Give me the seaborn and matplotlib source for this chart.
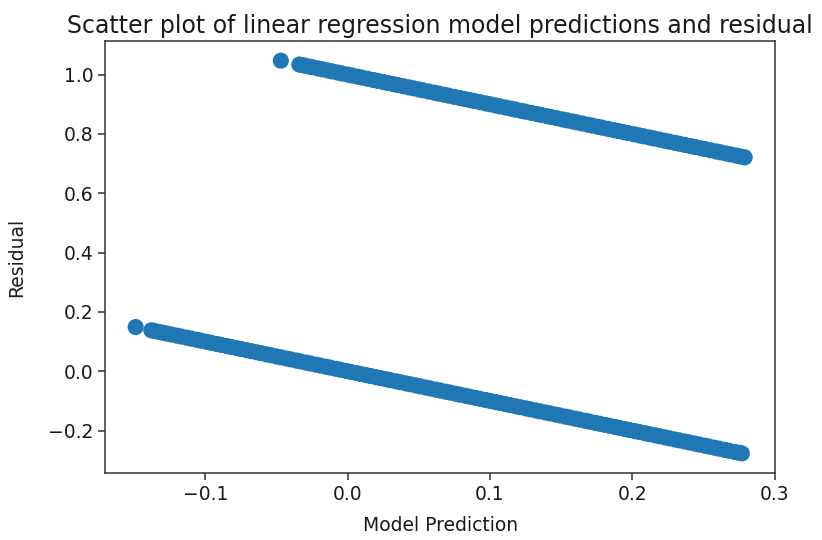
import matplotlib
matplotlib.use("Agg")
import matplotlib.pyplot as plt
import seaborn as sns
import pandas as pd

# Model predictions for observations whose actual label is 1
pred_label_one = [
    -0.047, -0.034, -0.032, -0.030, -0.027, -0.025, -0.021, -0.018, -0.014, -0.011,
    -0.007, -0.004, 0.000, 0.003, 0.007, 0.010, 0.014, 0.018, 0.021, 0.025,
    0.028, 0.032, 0.035, 0.039, 0.043, 0.046, 0.050, 0.053, 0.057, 0.061,
    0.064, 0.068, 0.071, 0.075, 0.079, 0.082, 0.086, 0.089, 0.093, 0.097,
    0.100, 0.104, 0.107, 0.111, 0.115, 0.118, 0.122, 0.125, 0.129, 0.133,
    0.136, 0.140, 0.143, 0.147, 0.151, 0.154, 0.158, 0.161, 0.165, 0.169,
    0.172, 0.176, 0.179, 0.183, 0.187, 0.190, 0.194, 0.197, 0.201, 0.205,
    0.208, 0.212, 0.215, 0.219, 0.223, 0.226, 0.230, 0.233, 0.237, 0.241,
    0.244, 0.248, 0.251, 0.255, 0.259, 0.262, 0.266, 0.269, 0.273, 0.276, 0.279,
]

# Model predictions for observations whose actual label is 0
pred_label_zero = [
    -0.149, -0.138, -0.136, -0.133, -0.130, -0.127, -0.124, -0.120, -0.117, -0.113,
    -0.110, -0.106, -0.103, -0.099, -0.096, -0.092, -0.089, -0.085, -0.082, -0.078,
    -0.075, -0.071, -0.068, -0.064, -0.061, -0.057, -0.054, -0.050, -0.047, -0.043,
    -0.040, -0.036, -0.033, -0.029, -0.026, -0.022, -0.019, -0.015, -0.012, -0.008,
    -0.005, -0.001, 0.002, 0.006, 0.009, 0.013, 0.016, 0.020, 0.023, 0.027,
    0.030, 0.034, 0.037, 0.041, 0.044, 0.048, 0.051, 0.055, 0.058, 0.062,
    0.065, 0.069, 0.072, 0.076, 0.079, 0.083, 0.086, 0.090, 0.093, 0.097,
    0.100, 0.104, 0.107, 0.111, 0.114, 0.118, 0.121, 0.125, 0.128, 0.132,
    0.135, 0.139, 0.142, 0.146, 0.149, 0.153, 0.156, 0.160, 0.163, 0.167,
    0.170, 0.174, 0.177, 0.181, 0.184, 0.188, 0.191, 0.195, 0.198, 0.202,
    0.205, 0.209, 0.212, 0.216, 0.219, 0.223, 0.226, 0.230, 0.233, 0.237,
    0.240, 0.244, 0.247, 0.251, 0.254, 0.258, 0.261, 0.265, 0.268, 0.272,
    0.275, 0.277,
]

actual = [1] * len(pred_label_one) + [0] * len(pred_label_zero)
predicted = pred_label_one + pred_label_zero

df = pd.DataFrame({"actual": actual, "prediction": predicted})
df["residual"] = df["actual"] - df["prediction"]

plt.rcParams["font.family"] = ["DejaVu Sans"]
fig, ax = plt.subplots(figsize=(8.22, 5.40), dpi=100)
fig.subplots_adjust(left=0.128, right=0.943, top=0.924, bottom=0.124)

sns.scatterplot(data=df, x="prediction", y="residual", ax=ax,
                color="#1f77b4", s=135, linewidth=0, edgecolor="none", alpha=1.0)

ax.set_title("Scatter plot of linear regression model predictions and residual",
             fontsize=17, color="#1a1a1a", pad=6)
ax.set_xlabel("Model Prediction", fontsize=13.5, color="#1a1a1a", labelpad=9)
ax.set_ylabel("Residual", fontsize=13.5, color="#1a1a1a", labelpad=16)
ax.tick_params(labelsize=13.5, width=1.1, length=5, colors="#333333",
               labelcolor="#1a1a1a")
for spine in ax.spines.values():
    spine.set_linewidth(1.1)
    spine.set_color("#333333")

fig.savefig("out.png", dpi=100)
